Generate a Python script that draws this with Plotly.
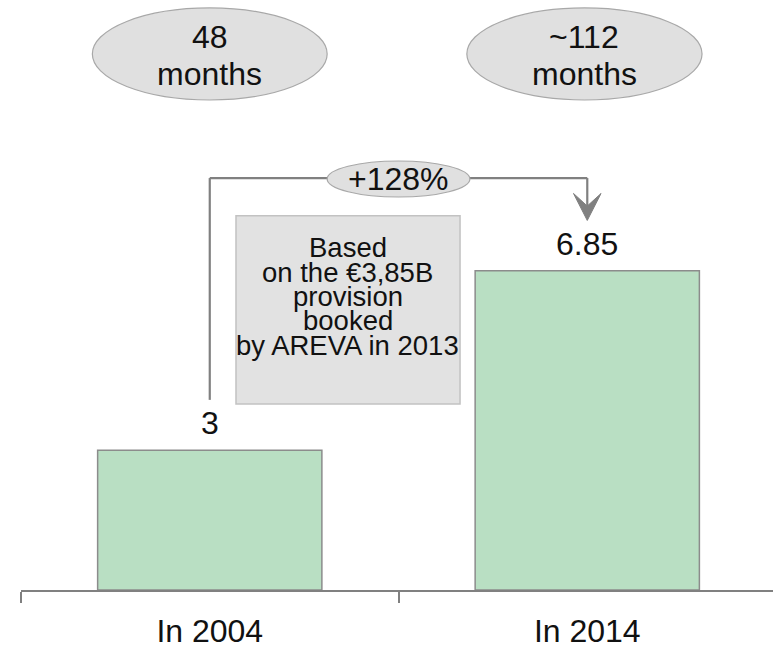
import plotly.graph_objects as go

# --- data -------------------------------------------------------------
categories = ["In 2004", "In 2014"]
values = [3, 6.85]
durations = ["48", "~112"]
duration_unit = "months"
growth_label = "+128%"
note_lines = ["Based", "on the €3,85B", "provision", "booked", "by AREVA in 2013"]

# --- styling ----------------------------------------------------------
FONT = "Liberation Sans, Arial, sans-serif"
BAR_FILL = "#b9dfc3"
BAR_EDGE = "#8c8c8c"
GREY = "#808080"
BUBBLE_FILL = "#e0e0e0"
BUBBLE_EDGE = "#a8a8a8"
NOTE_FILL = "#e2e2e2"
NOTE_EDGE = "#c2c2c2"
TEXT = "#111111"
BIG = 32

fig = go.Figure(
    go.Bar(
        x=categories,
        y=values,
        width=0.594,
        marker=dict(color=BAR_FILL, line=dict(color=BAR_EDGE, width=1.5)),
        hoverinfo="skip",
    )
)

shapes = []
annotations = []

# value labels above the bars
for cat, v in zip(categories, values):
    annotations.append(dict(
        x=cat, y=v, xref="x", yref="y", text=f"{v:g}", showarrow=False,
        yanchor="middle", yshift=27, font=dict(size=BIG, color=TEXT),
    ))

# duration bubbles at the top of each column
bubble_x = [(-0.311, 0.311), (0.681, 1.304)]
for (x0, x1), label in zip(bubble_x, durations):
    shapes.append(dict(
        type="circle", xref="x", yref="y", x0=x0, x1=x1, y0=10.515, y1=12.49,
        fillcolor=BUBBLE_FILL, line=dict(color=BUBBLE_EDGE, width=1.2),
    ))
    cx = (x0 + x1) / 2
    annotations.append(dict(x=cx, y=11.87, xref="x", yref="y", text=label,
                            showarrow=False, font=dict(size=BIG, color=TEXT)))
    annotations.append(dict(x=cx, y=11.08, xref="x", yref="y", text=duration_unit,
                            showarrow=False, font=dict(size=BIG, color=TEXT)))

# growth connector from the first bar to the second
gap = 1.08
top_level = 8.84
shapes += [
    dict(type="line", xref="x", yref="y", x0=0, x1=0, y0=values[0] + gap, y1=top_level,
         line=dict(color=GREY, width=2.2)),
    dict(type="line", xref="x", yref="y", x0=0, x1=1, y0=top_level, y1=top_level,
         line=dict(color=GREY, width=2.2)),
    dict(type="line", xref="x", yref="y", x0=1, x1=1, y0=top_level, y1=values[1] + gap + 0.3,
         line=dict(color=GREY, width=2.2)),
]
tip = values[1] + gap
shapes.append(dict(
    type="path", xref="x", yref="y",
    path=f"M 0.9635,{tip + 0.58} L 1,{tip} L 1.0365,{tip + 0.58} L 1,{tip + 0.31} Z",
    fillcolor=GREY, line=dict(color=GREY, width=1),
))
shapes.append(dict(
    type="circle", xref="x", yref="y", x0=0.311, x1=0.689, y0=8.433, y1=9.206,
    fillcolor=BUBBLE_FILL, line=dict(color=BUBBLE_EDGE, width=1.2),
))
annotations.append(dict(x=0.5, y=8.82, xref="x", yref="y", text=growth_label,
                        showarrow=False, font=dict(size=BIG, color=TEXT)))

# note box
shapes.append(dict(
    type="rect", xref="x", yref="y", x0=0.0695, x1=0.663, y0=3.99, y1=8.03,
    fillcolor=NOTE_FILL, line=dict(color=NOTE_EDGE, width=1.5),
))
for i, line in enumerate(note_lines):
    annotations.append(dict(x=0.366, y=7.34 - 0.522 * i, xref="x", yref="y", text=line,
                            showarrow=False, font=dict(size=27.5, color=TEXT)))

fig.update_layout(
    width=773, height=654,
    margin=dict(l=21, r=0, t=0, b=64),
    paper_bgcolor="white", plot_bgcolor="white",
    font=dict(family=FONT, color=TEXT),
    showlegend=False,
    shapes=shapes,
    annotations=annotations,
    xaxis=dict(
        type="category", range=[-0.5, 1.492], tickson="boundaries",
        ticks="outside", ticklen=11, tickwidth=1.5, tickcolor=GREY,
        showline=True, linecolor=GREY, linewidth=1.5, showgrid=False,
        tickfont=dict(size=BIG, color=TEXT), ticklabelstandoff=12,
        fixedrange=True,
    ),
    yaxis=dict(visible=False, range=[0, 12.661], fixedrange=True),
)

fig.write_html("out.html", config={"displayModeBar": False})
